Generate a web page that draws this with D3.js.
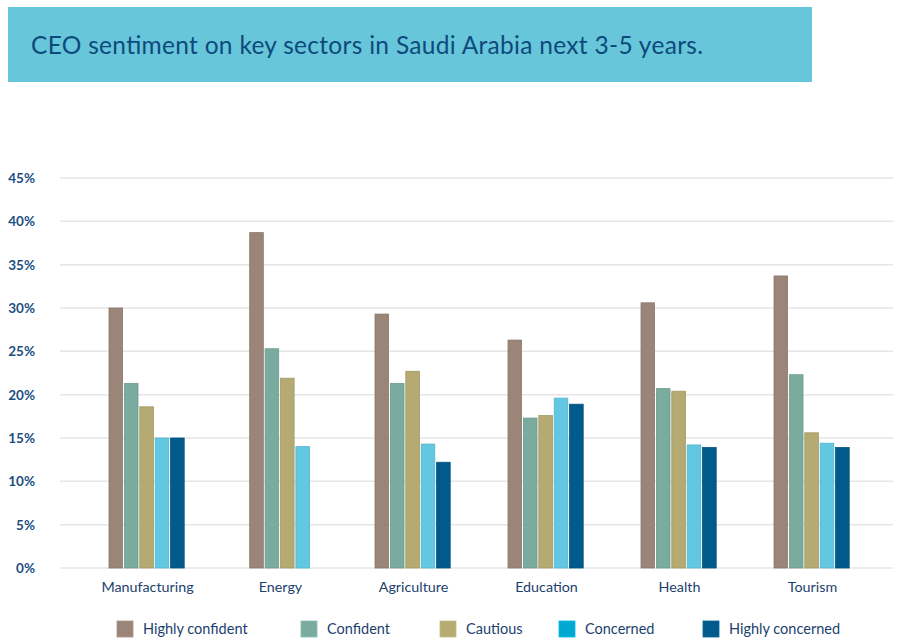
<!DOCTYPE html>
<html>
<head>
<meta charset="utf-8">
<script src="https://cdn.jsdelivr.net/npm/d3@7"></script>
<style>
  body { margin: 0; background: #fff; }
  svg { font-family: "Lato", "Open Sans", sans-serif; }
</style>
</head>
<body>
<div id="chart"></div>
<script>
// data
var sectors = ["Manufacturing", "Energy", "Agriculture", "Education", "Health", "Tourism"];
var seriesNames = ["Highly confident", "Confident", "Cautious", "Concerned", "Highly concerned"];
var highlyConfident = [30.0, 38.7, 29.3, 26.3, 30.6, 33.7];
var confident = [21.3, 25.3, 21.3, 17.3, 20.7, 22.3];
var cautious = [18.6, 21.9, 22.7, 17.6, 20.4, 15.6];
var concerned = [15.0, 14.0, 14.3, 19.6, 14.2, 14.4];
var highlyConcerned = [15.0, null, 12.2, 18.9, 13.9, 13.9];
var yTicks = [0, 5, 10, 15, 20, 25, 30, 35, 40, 45];

var seriesValues = [highlyConfident, confident, cautious, concerned, highlyConcerned];
var barColors = ["#9b8578", "#7aab9f", "#b4aa72", "#62c7e1", "#005b8c"];
var swatchColors = ["#9b8578", "#7aab9f", "#b4aa72", "#00a8d0", "#005b8c"];

var W = 900, H = 643;
var svg = d3.select("#chart").append("svg")
    .attr("width", W)
    .attr("height", H);

// title banner
svg.append("rect")
    .attr("x", 8).attr("y", 7)
    .attr("width", 804).attr("height", 75)
    .attr("fill", "#68c6da");
svg.append("text")
    .attr("x", 31).attr("y", 54)
    .attr("fill", "#0d4a7c")
    .attr("font-size", 24.5)
    .attr("textLength", 672)
    .attr("lengthAdjust", "spacing")
    .text("CEO sentiment on key sectors in Saudi Arabia next 3-5 years.");

var x = d3.scaleBand()
    .domain(sectors)
    .range([81, 879]);

var y = d3.scaleLinear()
    .domain([0, 45])
    .range([568, 178]);

// gridlines
svg.append("g")
    .selectAll("line")
    .data(yTicks)
    .enter()
    .append("line")
    .attr("x1", 60).attr("x2", 893)
    .attr("y1", function (d) { return y(d); })
    .attr("y2", function (d) { return y(d); })
    .attr("stroke", "#e6e6e6")
    .attr("stroke-width", 1.5);

// y axis labels
svg.append("g")
    .selectAll("text")
    .data(yTicks)
    .enter()
    .append("text")
    .attr("x", 35)
    .attr("y", function (d) { return y(d) + 5; })
    .attr("text-anchor", "end")
    .attr("fill", "#1b4f82")
    .attr("font-size", 13.5)
    .attr("font-weight", "bold")
    .text(function (d) { return d + "%"; });

// bars: each sector centres only the bars it has
var step = 15.4, bw = 13.6;
var bars = [];
sectors.forEach(function (s, i) {
    var present = [];
    seriesValues.forEach(function (vals, k) {
        if (vals[i] != null) present.push(k);
    });
    var cx = x(s) + x.bandwidth() / 2;
    var start = cx - present.length * step / 2;
    present.forEach(function (k, j) {
        bars.push({ sector: s, k: k, v: seriesValues[k][i], x0: start + j * step });
    });
});

svg.append("g")
    .selectAll("rect")
    .data(bars)
    .enter()
    .append("rect")
    .attr("x", function (d) { return d.x0; })
    .attr("y", function (d) { return y(d.v); })
    .attr("width", bw)
    .attr("height", function (d) { return y(0) - y(d.v); })
    .attr("fill", function (d) { return barColors[d.k]; })
    .attr("stroke", function (d) { return d3.color(barColors[d.k]).darker(0.3); })
    .attr("stroke-width", 0.8);

// x axis labels
svg.append("g")
    .selectAll("text")
    .data(sectors)
    .enter()
    .append("text")
    .attr("x", function (d) { return x(d) + x.bandwidth() / 2; })
    .attr("y", 592)
    .attr("text-anchor", "middle")
    .attr("fill", "#1b3f6e")
    .attr("font-size", 14.3)
    .text(function (d) { return d; });

// legend
var legendX = [117, 301, 440, 559, 703];
var legend = svg.append("g")
    .selectAll("g")
    .data(seriesNames)
    .enter()
    .append("g")
    .attr("transform", function (d, i) { return "translate(" + legendX[i] + ",621)"; });
legend.append("rect")
    .attr("width", 16).attr("height", 16)
    .attr("fill", function (d, i) { return swatchColors[i]; })
    .attr("stroke", function (d, i) { return d3.color(swatchColors[i]).brighter(0.3); })
    .attr("stroke-width", 0.8);
legend.append("text")
    .attr("x", 26).attr("y", 13)
    .attr("fill", "#1b3f6e")
    .attr("font-size", 14.5)
    .text(function (d) { return d; });
</script>
</body>
</html>
